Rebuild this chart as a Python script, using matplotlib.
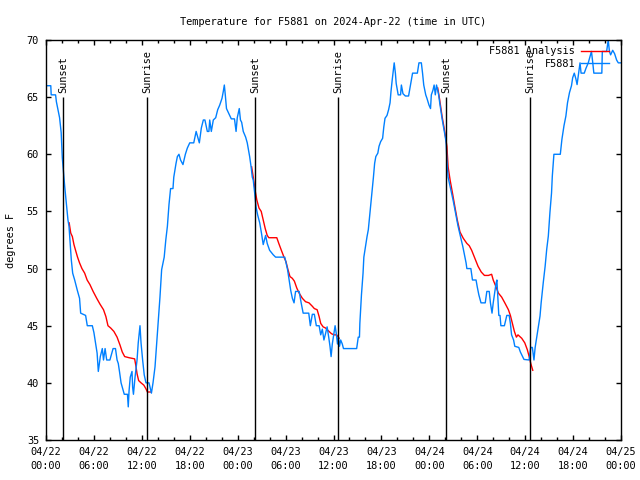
import matplotlib
matplotlib.use('Agg')
import matplotlib.pyplot as plt
from matplotlib.ticker import MultipleLocator

# hours since 2024-04-22 00:00 UTC
obs_hours = [0.0, 0.6, 0.65, 1.2, 1.3, 1.5, 1.7, 1.9, 2.04, 2.17, 2.34, 2.55, 2.75, 2.88, 3.0,
             3.17, 3.34, 3.59, 3.92, 4.2, 4.34, 4.96, 5.17, 5.8, 6.0, 6.2, 6.4, 6.55, 6.8, 7.05,
             7.2, 7.4, 7.6, 8.0, 8.4, 8.7, 8.9, 9.05, 9.2, 9.4, 9.6, 9.8, 10.2, 10.3, 10.4,
             10.55, 10.77, 10.85, 10.95, 11.15, 11.4, 11.55, 11.77, 11.9, 12.1, 12.3, 12.52, 12.9, 13.2, 13.4,
             13.65, 13.86, 14.06, 14.27, 14.48, 14.8, 15.0, 15.2, 15.4, 15.6, 15.9, 16.0, 16.28, 16.45, 16.65,
             16.85, 17.15, 17.45, 17.7, 18.0, 18.5, 18.8, 19.2, 19.45, 19.7, 19.9, 20.2, 20.4, 20.5, 20.7,
             20.95, 21.25, 21.5, 21.75, 22.04, 22.2, 22.33, 22.45, 22.6, 22.8, 23.2, 23.6, 23.8, 23.95, 24.2,
             24.35, 24.5, 24.7, 25.0, 25.2, 25.5, 25.7, 25.83, 25.95, 26.13, 26.3, 26.5, 26.76, 26.98, 27.2,
             27.35, 27.5, 27.7, 28.0, 28.46, 28.75, 29.9, 30.25, 30.45, 30.64, 30.85, 31.06, 31.25, 31.7, 31.95,
             32.2, 32.9, 33.1, 33.35, 33.6, 33.85, 34.2, 34.4, 34.6, 34.8, 35.0, 35.2, 35.4, 35.56, 35.7,
             35.85, 36.05, 36.2, 36.35, 36.5, 36.62, 36.75, 36.9, 37.1, 37.25, 38.9, 39.1, 39.25, 39.3, 39.5,
             39.7, 39.8, 40.0, 40.2, 40.36, 40.5, 40.65, 40.8, 41.0, 41.15, 41.3, 41.55, 41.7, 41.9, 42.15,
             42.3, 42.45, 42.7, 42.9, 43.08, 43.2, 43.35, 43.5, 43.6, 43.75, 43.85, 44.1, 44.4, 44.5, 44.7,
             45.0, 45.4, 45.6, 45.9, 46.5, 46.7, 47.0, 47.15, 47.3, 47.55, 47.7, 47.96, 48.15, 48.25, 48.45,
             48.6, 48.75, 48.9, 49.17, 49.3, 49.6, 49.8, 50.0, 50.1, 50.2, 50.35, 50.6, 50.8, 51.0, 51.3,
             51.6, 51.9, 52.2, 52.4, 52.6, 52.7, 53.2, 53.4, 53.85, 54.0, 54.2, 54.47, 55.0, 55.2, 55.5,
             55.65, 55.85, 56.0, 56.2, 56.35, 56.46, 56.7, 56.85, 56.96, 57.4, 57.7, 58.0, 58.15, 58.3, 58.55,
             58.7, 59.2, 59.4, 59.85, 60.5, 60.7, 60.9, 61.1, 61.25, 61.45, 61.6, 61.86, 62.0, 62.27, 62.5,
             62.7, 62.9, 63.1, 63.3, 63.4, 63.6, 64.4, 64.6, 64.86, 65.1, 65.3, 65.55, 65.8, 65.95, 66.15,
             66.35, 66.5, 66.7, 66.87, 67.0, 67.4, 67.6, 67.9, 68.1, 68.3, 68.45, 68.6, 69.6, 69.66, 70.2,
             70.4, 70.55, 70.7, 70.96, 71.2, 71.45, 71.66, 72.0]
obs_temp = [66.0, 66.0, 65.2, 65.2, 64.6, 63.9, 63.2, 61.9, 59.7, 58.6, 57.2, 55.7, 54.25, 53.7, 52.5,
            50.75, 49.6, 49.0, 48.1, 47.4, 46.1, 45.9, 45.0, 45.0, 44.4, 43.5, 42.6, 41.0, 42.3, 43.0,
            42.0, 43.0, 42.0, 42.0, 43.0, 43.0, 42.0, 41.7, 41.0, 40.0, 39.5, 39.0, 39.0, 37.9, 39.3,
            40.5, 41.0, 39.6, 39.0, 40.5, 42.0, 43.5, 45.0, 43.5, 42.0, 40.7, 40.0, 40.0, 39.1, 40.0,
            41.4, 43.5, 45.5, 47.5, 49.9, 51.0, 52.5, 53.7, 55.6, 57.0, 57.0, 58.0, 59.2, 59.8, 60.0,
            59.5, 59.1, 60.0, 60.55, 61.0, 61.0, 62.0, 61.0, 62.3, 63.0, 63.0, 62.0, 62.0, 63.0, 62.0,
            63.0, 63.2, 63.9, 64.3, 64.9, 65.5, 66.06, 65.2, 64.0, 63.7, 63.1, 63.1, 62.0, 63.2, 64.0,
            63.0, 62.8, 62.0, 61.5, 61.0, 59.8, 58.8, 58.0, 57.75, 56.6, 55.4, 54.7, 54.0, 53.1, 52.1,
            52.5, 52.9, 52.2, 51.6, 51.2, 51.0, 51.0, 49.9, 49.0, 48.1, 47.4, 47.0, 48.0, 48.0, 47.0,
            46.1, 46.1, 45.0, 46.0, 46.0, 45.0, 45.0, 44.2, 44.7, 43.75, 44.3, 44.9, 44.0, 43.2, 42.3,
            43.4, 44.3, 45.0, 44.3, 43.4, 44.0, 43.2, 43.75, 43.4, 43.0, 43.0, 44.0, 44.0, 45.2, 47.7,
            49.6, 51.0, 51.9, 52.8, 53.4, 54.4, 55.4, 56.6, 58.0, 59.2, 59.8, 60.1, 60.7, 61.1, 61.4,
            62.4, 63.15, 63.4, 63.9, 64.5, 65.5, 66.5, 67.4, 68.0, 67.1, 66.2, 65.2, 65.2, 66.06, 65.3,
            65.1, 65.1, 65.9, 67.1, 67.1, 68.0, 68.0, 67.1, 66.06, 65.2, 64.9, 64.3, 64.0, 65.2, 65.6,
            66.06, 65.2, 66.06, 65.2, 64.5, 63.1, 62.3, 61.5, 61.0, 59.5, 58.0, 57.2, 56.6, 55.9, 54.8,
            53.7, 52.8, 51.9, 51.2, 50.5, 50.0, 50.0, 49.0, 49.0, 48.4, 47.7, 47.0, 47.0, 48.0, 48.0,
            47.0, 46.1, 47.0, 48.0, 48.7, 49.0, 45.9, 45.9, 45.0, 45.0, 45.9, 45.9, 45.2, 44.2, 43.75,
            43.2, 43.1, 42.7, 42.05, 42.0, 43.1, 43.1, 42.0, 43.1, 44.0, 44.7, 45.85, 47.0, 48.8, 50.2,
            51.7, 52.85, 54.9, 56.6, 58.1, 60.0, 60.0, 61.3, 62.5, 63.35, 64.5, 65.4, 66.0, 66.7, 67.1,
            66.6, 66.1, 67.1, 68.0, 67.1, 67.1, 67.5, 68.0, 68.5, 69.0, 68.1, 67.1, 67.1, 69.0, 69.0,
            70.0, 69.0, 68.7, 69.1, 68.8, 68.25, 68.0, 68.0]

# analysis (red) - one piece per night
ana_hours_1 = [2.9, 3.1, 3.3, 3.5, 3.7, 3.95, 4.2, 4.5, 4.84, 5.15, 5.5, 5.9, 6.35, 6.75, 7.2,
               7.5, 7.76, 8.1, 8.5, 8.9, 9.27, 9.55, 9.85, 10.4, 11.1, 11.25, 11.4, 11.6, 11.9, 12.25,
               12.5, 12.7, 13.1]
ana_temp_1 = [54.0, 53.1, 52.8, 52.1, 51.6, 51.0, 50.5, 50.0, 49.6, 49.0, 48.6, 48.0, 47.4, 46.9, 46.4,
              45.8, 45.0, 44.8, 44.5, 44.0, 43.3, 42.7, 42.3, 42.2, 42.1, 41.5, 40.8, 40.2, 40.0, 39.8,
              39.5, 39.2, 39.2]
ana_hours_2 = [25.75, 25.95, 26.17, 26.4, 26.67, 26.95, 27.2, 27.45, 27.7, 27.9, 28.9, 29.15, 29.47, 29.8, 30.05,
               30.3, 30.55, 30.84, 31.1, 31.4, 31.7, 32.1, 32.5, 32.93, 33.35, 33.6, 33.95, 34.2, 34.4, 34.7,
               35.0, 35.44, 35.75, 36.06, 36.4, 36.7]
ana_temp_2 = [58.9, 58.0, 56.9, 56.0, 55.3, 55.0, 54.25, 53.5, 52.9, 52.7, 52.7, 52.2, 51.6, 51.0, 50.6,
              49.9, 49.3, 49.15, 48.9, 48.3, 47.85, 47.4, 47.1, 47.0, 46.7, 46.5, 46.4, 45.8, 45.2, 44.9,
              44.8, 44.5, 44.3, 44.2, 44.2, 43.9]
ana_hours_3 = [49.05, 49.3, 49.6, 49.9, 50.2, 50.35, 50.6, 50.9, 51.2, 51.5, 51.84, 52.25, 52.7, 53.0, 53.3,
               53.7, 54.1, 54.5, 54.9, 55.4, 55.8, 56.0, 56.35, 56.65, 57.06, 57.45, 57.9, 58.15, 58.4, 58.65,
               58.9, 59.1, 59.57, 59.95, 60.27, 60.5, 60.7, 60.95]
ana_temp_3 = [65.8, 64.75, 63.3, 62.1, 60.7, 58.9, 57.75, 56.6, 55.4, 54.25, 53.2, 52.65, 52.2, 52.0, 51.6,
              50.9, 50.2, 49.7, 49.4, 49.4, 49.5, 49.0, 48.4, 47.85, 47.5, 47.0, 46.4, 45.9, 45.2, 44.5,
              44.0, 44.2, 43.9, 43.5, 42.9, 42.3, 41.7, 41.1]

sun_hours = [2.15, 12.68, 26.2, 36.6, 50.1, 60.6]
sun_labels = ['Sunset', 'Sunrise', 'Sunset', 'Sunrise', 'Sunset', 'Sunrise']

tick_labels = ['04/22\n00:00', '04/22\n06:00', '04/22\n12:00', '04/22\n18:00',
               '04/23\n00:00', '04/23\n06:00', '04/23\n12:00', '04/23\n18:00',
               '04/24\n00:00', '04/24\n06:00', '04/24\n12:00', '04/24\n18:00',
               '04/25\n00:00']

FS = 7.4
plt.rcParams['font.family'] = 'DejaVu Sans Mono'
plt.rcParams['font.size'] = FS

fig = plt.figure(figsize=(6.4, 4.8), dpi=100)
ax = fig.add_axes([46/640, 40/480, 575/640, 400/480])

ax.plot(ana_hours_1, ana_temp_1, color='#ff0000', lw=1, label='F5881 Analysis')
ax.plot(ana_hours_2, ana_temp_2, color='#ff0000', lw=1)
ax.plot(ana_hours_3, ana_temp_3, color='#ff0000', lw=1)
ax.plot(obs_hours, obs_temp, color='#0080ff', lw=1, label='F5881')

for t, lab in zip(sun_hours, sun_labels):
    ax.vlines(t, 35, 65, color='black', lw=1)
    ax.text(t, 65.35, lab, rotation=90, ha='center', va='bottom', fontsize=FS)

ax.set_xlim(0, 72)
ax.set_ylim(35, 70)
ax.set_xticks(range(0, 73, 6))
ax.set_xticklabels(tick_labels, linespacing=1.5)
ax.xaxis.set_minor_locator(MultipleLocator(2))
ax.set_yticks(range(35, 71, 5))
ax.tick_params(which='both', direction='in', top=True, right=True, width=1, labelsize=FS)
ax.tick_params(which='major', length=3.5, pad=5)
ax.tick_params(which='minor', length=2)
for s in ax.spines.values():
    s.set_linewidth(1)

ax.set_ylabel('degrees F', labelpad=8, fontsize=FS)
ax.set_title('Temperature for F5881 on 2024-Apr-22 (time in UTC)', pad=11, fontsize=FS)

ax.legend(loc='upper right', bbox_to_anchor=(0.99, 1.0), frameon=False,
          markerfirst=False, handlelength=2.7, handletextpad=0.6,
          labelspacing=0.25, borderaxespad=0.2, fontsize=FS)

plt.savefig('out.png', dpi=100)
